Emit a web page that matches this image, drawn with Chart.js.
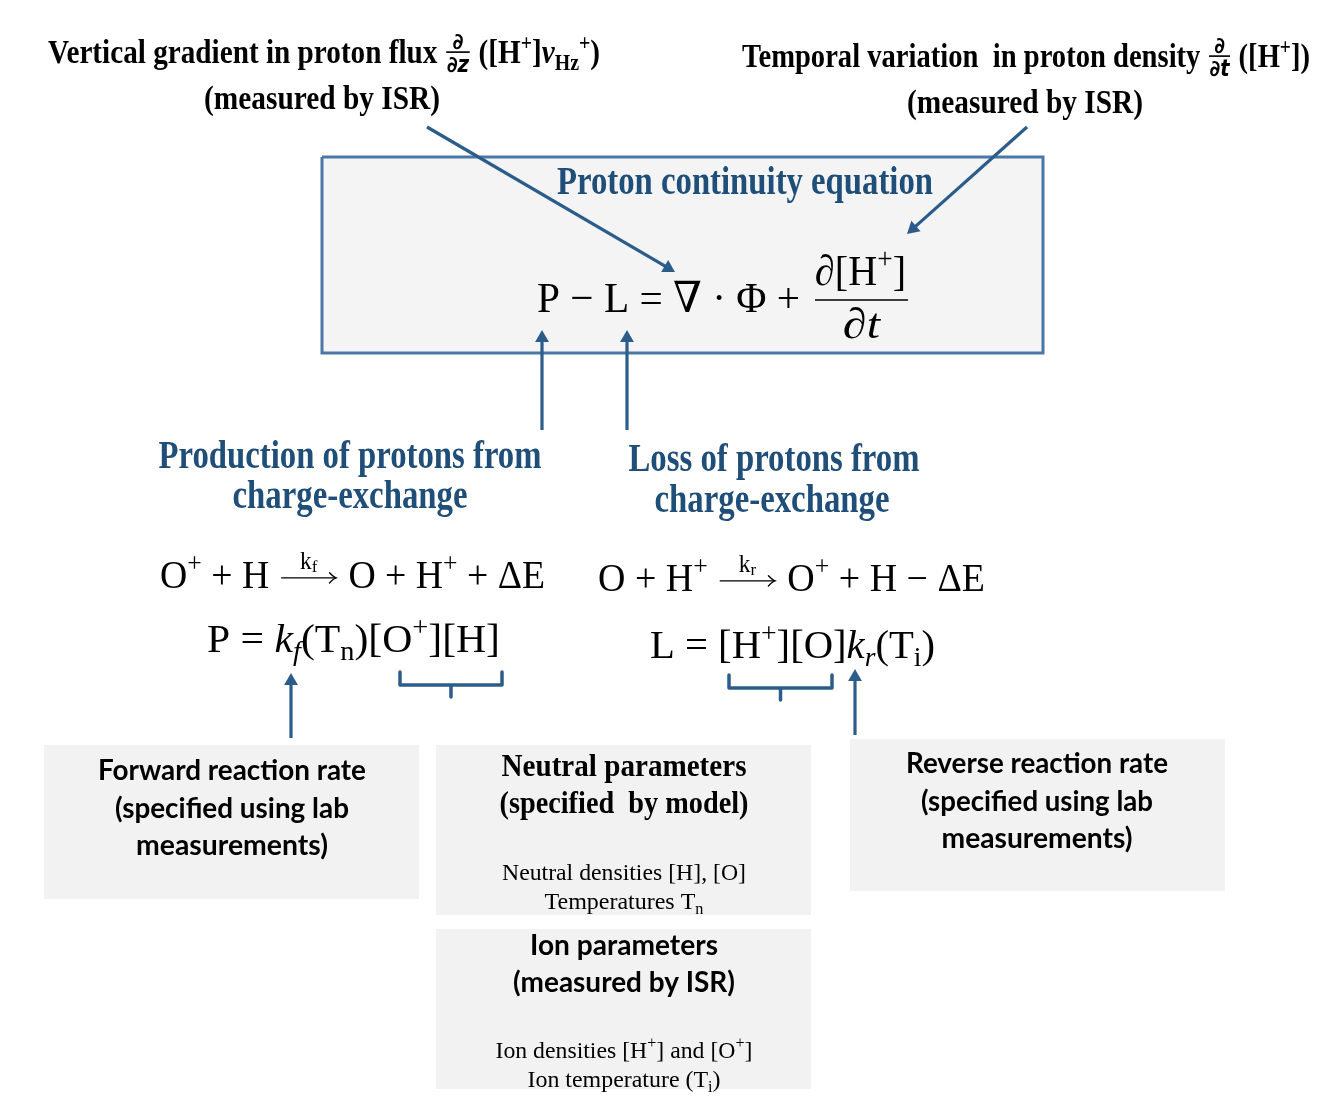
<!DOCTYPE html>
<html>
<head>
<meta charset="utf-8">
<script src="https://cdn.jsdelivr.net/npm/chart.js@4"></script>
<style>
  html, body { margin: 0; padding: 0; background: #ffffff; }
  canvas { display: block; }
</style>
</head>
<body>
<canvas id="c" width="1318" height="1100"></canvas>
<script>
// ---------- diagram content (text) ----------
const topLabels = [
  "Vertical gradient in proton flux #{∂|∂|z} ([H^{+}]~{v}_{Hz}^{+})",
  "(measured by ISR)",
  "Temporal variation  in proton density #{∂|∂|t} ([H^{+}])",
  "(measured by ISR)"
];
const blueTitles = [
  "Proton continuity equation",
  "Production of protons from", "charge-exchange",
  "Loss of protons from", "charge-exchange"
];
const equations = [
  "P − L = ∇ · Φ +", "∂[H^{+}]", "∂~{t}",
  "O^{+} + H @f O + H^{+} + ΔE",
  "P = ~{k}_{`f}(T_{n})[O^{+}][H]",
  "O + H^{+} @r O^{+} + H − ΔE",
  "L = [H^{+}][O]~{k}_{`r}(T_{i})"
];
const boxTexts = [
  "Forward reaction rate", "(specified using lab", "measurements)",
  "Neutral parameters", "(specified  by model)",
  "Neutral densities [H], [O]", "Temperatures T_{n}",
  "Reverse reaction rate", "(specified using lab", "measurements)",
  "Ion parameters", "(measured by ISR)",
  "Ion densities [H^{+}] and [O^{+}]", "Ion temperature (T_{i})"
];

// ---------- diagram geometry (diagram coordinates) ----------
const mainBox = [322, 157, 1043, 353];
const greyBoxes = [
  [44, 745, 419, 899],
  [436, 745, 811, 915],
  [850, 739, 1225, 891],
  [436, 929, 811, 1089]
];
// arrows: start x, start y, tip x, tip y
const arrows = [
  [427, 127, 675, 272],
  [1027, 127, 907, 234],
  [542, 430, 542, 330],
  [627, 430, 627, 330],
  [291, 738, 291, 673],
  [855, 735, 855, 669]
];
// brackets: left x, top y, right x, bar y, tick y
const brackets = [
  [400, 672, 502, 685, 697],
  [729, 675, 832, 688, 700]
];
const fractionBars = [[815, 300, 908, 300]];

// ---------- styles ----------
const BLUE_TXT = '#1f4e79';
const ARROW_C = '#2c5d8a';
const BOX_EDGE = '#4977a6';
const SERIF = '"Liberation Serif", "Times New Roman", "DejaVu Serif", serif';
const SANS = 'Lato, "Open Sans", "DejaVu Sans", sans-serif';
const FRACF = '"DejaVu Sans", sans-serif';

// label placement: [text, x, baselineY, align, family, weight, size, targetWidth, color]
const labels = [
  [topLabels[0], 48, 63, 'left', SERIF, 'bold', 33, 552, '#000'],
  [topLabels[1], 322, 109, 'center', SERIF, 'bold', 33, 236, '#000'],
  [topLabels[2], 742, 67, 'left', SERIF, 'bold', 33, 568, '#000'],
  [topLabels[3], 1025, 113, 'center', SERIF, 'bold', 33, 236, '#000'],
  [blueTitles[0], 745, 194, 'center', SERIF, 'bold', 39, 376, BLUE_TXT],
  [blueTitles[1], 350, 468, 'center', SERIF, 'bold', 40, 383, BLUE_TXT],
  [blueTitles[2], 350, 508, 'center', SERIF, 'bold', 40, 235, BLUE_TXT],
  [blueTitles[3], 774, 471, 'center', SERIF, 'bold', 40, 291, BLUE_TXT],
  [blueTitles[4], 772, 512, 'center', SERIF, 'bold', 40, 235, BLUE_TXT],
  [equations[0], 537, 312, 'left', SERIF, 'normal', 43, 263, '#000'],
  [equations[1], 815, 285, 'left', SERIF, 'normal', 43, 91, '#000'],
  [equations[2], 843, 338, 'left', SERIF, 'normal', 43, 37, '#000'],
  [equations[3], 160, 588, 'left', SERIF, 'normal', 39, 385, '#000'],
  [equations[4], 207, 652, 'left', SERIF, 'normal', 41, 293, '#000'],
  [equations[5], 598, 591, 'left', SERIF, 'normal', 39, 387, '#000'],
  [equations[6], 650, 658, 'left', SERIF, 'normal', 41, 285, '#000'],
  [boxTexts[0], 232, 780, 'center', SANS, 'bold', 28, 268, '#000'],
  [boxTexts[1], 232, 818, 'center', SANS, 'bold', 28, 234, '#000'],
  [boxTexts[2], 232, 855, 'center', SANS, 'bold', 28, 192, '#000'],
  [boxTexts[3], 624, 776, 'center', SERIF, 'bold', 32, 245, '#000'],
  [boxTexts[4], 624, 813, 'center', SERIF, 'bold', 32, 249, '#000'],
  [boxTexts[5], 624, 880, 'center', SERIF, 'normal', 24, 244, '#000'],
  [boxTexts[6], 624, 909, 'center', SERIF, 'normal', 24, 159, '#000'],
  [boxTexts[7], 1037, 773, 'center', SANS, 'bold', 28, 262, '#000'],
  [boxTexts[8], 1037, 811, 'center', SANS, 'bold', 28, 232, '#000'],
  [boxTexts[9], 1037, 848, 'center', SANS, 'bold', 28, 191, '#000'],
  [boxTexts[10], 624, 955, 'center', SANS, 'bold', 28, 188, '#000'],
  [boxTexts[11], 624, 992, 'center', SANS, 'bold', 28, 222, '#000'],
  [boxTexts[12], 624, 1058, 'center', SERIF, 'normal', 24, 257, '#000'],
  [boxTexts[13], 624, 1087, 'center', SERIF, 'normal', 24, 193, '#000']
];

// ---------- rich text ----------
function parse(s) {
  const out = []; let i = 0, buf = '';
  const flush = () => { if (buf) { out.push({ t: buf, mode: 'n' }); buf = ''; } };
  while (i < s.length) {
    const c = s[i];
    if ((c === '^' || c === '_' || c === '~') && s[i + 1] === '{') {
      flush(); const j = s.indexOf('}', i);
      out.push({ t: s.slice(i + 2, j), mode: c === '^' ? 'sup' : c === '_' ? 'sub' : 'it' });
      i = j + 1;
    } else if (c === '#' && s[i + 1] === '{') {
      flush(); const j = s.indexOf('}', i);
      out.push({ frac: s.slice(i + 2, j).split('|') }); i = j + 1;
    } else if (c === '@') {
      flush(); out.push({ arrow: s[i + 1] }); i += 2;
    } else { buf += c; i++; }
  }
  flush(); return out;
}

function layoutRich(ctx, text, fam, weight, S) {
  const items = []; let w = 0;
  for (const sg of parse(text)) {
    if (sg.arrow) {
      const aw = S * 1.6; items.push({ type: 'arrow', w: aw, lab: sg.arrow }); w += aw; continue;
    }
    if (sg.frac) {
      const fs = S * 0.68;
      ctx.font = `bold ${fs}px ${FRACF}`;
      const nw = ctx.measureText(sg.frac[0]).width;
      const d1 = ctx.measureText(sg.frac[1]).width;
      ctx.font = `italic bold ${fs}px ${FRACF}`;
      const d2 = ctx.measureText(sg.frac[2]).width;
      const fw = Math.max(nw, d1 + d2) + S * 0.14;
      items.push({ type: 'frac', w: fw, fs, f: sg.frac, nw, d1, d2 }); w += fw; continue;
    }
    let size = S, dy = 0, it = false, t = sg.t;
    if (t.startsWith('`')) { it = true; t = t.slice(1); }
    if (sg.mode === 'sup') { size = S * 0.68; dy = -S * 0.4; }
    else if (sg.mode === 'sub') { size = S * 0.68; dy = S * 0.2; }
    else if (sg.mode === 'it') { it = true; }
    const font = `${it ? 'italic ' : ''}${weight} ${size}px ${fam}`;
    ctx.font = font;
    const tw = ctx.measureText(t).width;
    items.push({ type: 'text', t, font, dy, w: tw }); w += tw;
  }
  return { items, w };
}

function drawRich(ctx, L, px, py) {
  const [text, , , align, fam, weight, S, target, color] = L;
  const lay = layoutRich(ctx, text, fam, weight, S);
  const W = target || lay.w;
  const sx = W / lay.w;
  const x0 = align === 'center' ? px - W / 2 : px;
  ctx.save();
  ctx.translate(x0, py);
  ctx.scale(sx, 1);
  ctx.fillStyle = color; ctx.strokeStyle = color;
  ctx.textBaseline = 'alphabetic'; ctx.textAlign = 'left';
  let cx = 0;
  for (const it of lay.items) {
    if (it.type === 'text') {
      ctx.font = it.font; ctx.fillText(it.t, cx, it.dy);
    } else if (it.type === 'arrow') {
      const ay = -S * 0.26, a0 = cx + S * 0.08, a1 = cx + it.w - S * 0.08;
      ctx.lineWidth = S * 0.035; ctx.lineCap = 'round';
      ctx.beginPath(); ctx.moveTo(a0, ay); ctx.lineTo(a1, ay); ctx.stroke();
      ctx.beginPath();
      ctx.moveTo(a1 - S * 0.17, ay - S * 0.13); ctx.quadraticCurveTo(a1 - S * 0.06, ay - S * 0.02, a1, ay);
      ctx.quadraticCurveTo(a1 - S * 0.06, ay + S * 0.02, a1 - S * 0.17, ay + S * 0.13);
      ctx.stroke();
      const ks = S * 0.62, ss = S * 0.45;
      ctx.font = `normal ${ks}px ${fam}`; const kw = ctx.measureText('k').width;
      ctx.font = `normal ${ss}px ${fam}`; const lw = ctx.measureText(it.lab).width;
      const lx = cx + it.w / 2 - (kw + lw) / 2, ly = ay - S * 0.22;
      ctx.font = `normal ${ks}px ${fam}`; ctx.fillText('k', lx, ly);
      ctx.font = `normal ${ss}px ${fam}`; ctx.fillText(it.lab, lx + kw, ly + S * 0.08);
    } else if (it.type === 'frac') {
      const by = -S * 0.33, fs = it.fs;
      ctx.lineWidth = S * 0.05;
      ctx.beginPath(); ctx.moveTo(cx + S * 0.05, by); ctx.lineTo(cx + it.w - S * 0.05, by); ctx.stroke();
      ctx.font = `bold ${fs}px ${FRACF}`;
      ctx.fillText(it.f[0], cx + it.w / 2 - it.nw / 2, by - S * 0.08);
      const dx = cx + it.w / 2 - (it.d1 + it.d2) / 2, dyy = by + fs * 0.9;
      ctx.fillText(it.f[1], dx, dyy);
      ctx.font = `italic bold ${fs}px ${FRACF}`;
      ctx.fillText(it.f[2], dx + it.d1, dyy);
    }
    cx += it.w;
  }
  ctx.restore();
}

// ---------- datasets built from geometry ----------
const HEAD = 8;
const datasets = [];
arrows.forEach(a => {
  const [x0, y0, x1, y1] = a;
  const len = Math.hypot(x1 - x0, y1 - y0);
  const ux = (x1 - x0) / len, uy = (y1 - y0) / len;
  const cxp = x1 - ux * HEAD, cyp = y1 - uy * HEAD;
  const rot = Math.atan2(uy, ux) * 180 / Math.PI + 90;
  datasets.push({
    data: [{ x: x0, y: y0 }, { x: cxp, y: cyp }],
    borderColor: ARROW_C, backgroundColor: ARROW_C, borderWidth: 3.2,
    pointRadius: [0, HEAD], pointStyle: 'triangle', pointRotation: rot,
    pointBorderWidth: 0, fill: false, order: 0
  });
});
brackets.forEach(b => {
  const [xl, yt, xr, yb, yk] = b; const xm = (xl + xr) / 2;
  datasets.push({
    data: [{ x: xl, y: yt }, { x: xl, y: yb }, { x: xm, y: yb }, { x: xm, y: yk }, { x: xm, y: yb }, { x: xr, y: yb }, { x: xr, y: yt }],
    borderColor: ARROW_C, borderWidth: 3.5, borderJoinStyle: 'round', borderCapStyle: 'round',
    pointRadius: 0, fill: false, order: 0
  });
});
fractionBars.forEach(f => {
  datasets.push({
    data: [{ x: f[0], y: f[1] }, { x: f[2], y: f[3] }],
    borderColor: '#000', borderWidth: 1.6, pointRadius: 0, fill: false, order: 0
  });
});
function rectPts(r) {
  return [{ x: r[0], y: r[1] }, { x: r[2], y: r[1] }, { x: r[2], y: r[3] }, { x: r[0], y: r[3] }, { x: r[0], y: r[1] }];
}
datasets.push({
  data: rectPts(mainBox), borderColor: BOX_EDGE, backgroundColor: '#f4f4f4',
  borderWidth: 3, borderJoinStyle: 'miter', pointRadius: 0, fill: 'shape', order: 5
});
greyBoxes.forEach(r => datasets.push({
  data: rectPts(r), borderColor: 'rgba(0,0,0,0)', backgroundColor: '#f2f2f2',
  borderWidth: 0, pointRadius: 0, fill: 'shape', order: 6
}));

const textPlugin = {
  id: 'diagramText',
  beforeDraw(chart) {
    const c = chart.ctx; c.save(); c.fillStyle = '#ffffff';
    c.fillRect(0, 0, chart.width, chart.height); c.restore();
  },
  afterDatasetsDraw(chart) {
    const xs = chart.scales.x, ys = chart.scales.y, c = chart.ctx;
    labels.forEach(L => drawRich(c, L, xs.getPixelForValue(L[1]), ys.getPixelForValue(L[2])));
  }
};

new Chart(document.getElementById('c'), {
  type: 'line',
  data: { datasets },
  options: {
    responsive: false, animation: false, events: [],
    layout: { padding: 0, autoPadding: false },
    elements: { line: { tension: 0 } },
    plugins: { legend: { display: false }, tooltip: { enabled: false } },
    scales: {
      x: { type: 'linear', min: 0, max: 1318, display: false },
      y: { type: 'linear', min: 0, max: 1100, reverse: true, display: false }
    }
  },
  plugins: [textPlugin]
});
</script>
</body>
</html>
